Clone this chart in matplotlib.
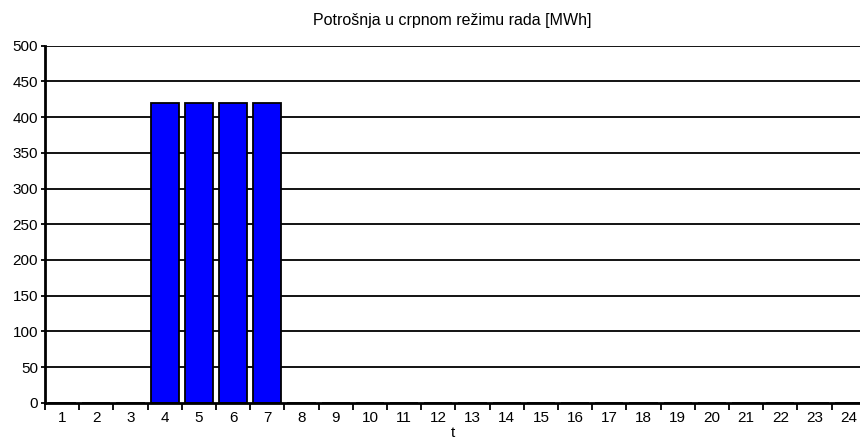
import numpy as np
import matplotlib.pyplot as plt
from matplotlib.ticker import FixedLocator

plt.rcParams['font.family'] = ['Liberation Sans', 'DejaVu Sans']

# Potrosnja po satima
sati = np.arange(1, 25)
potrosnja = np.array([0, 0, 0, 420, 420, 420, 420, 0, 0, 0, 0, 0,
                      0, 0, 0, 0, 0, 0, 0, 0, 0, 0, 0, 0])

fig = plt.figure(figsize=(8.6, 4.47), dpi=100)
ax = fig.add_axes([0.0523, 0.099, 0.9477, 0.7988])

ax.set_axisbelow(True)
for yv in np.arange(50, 501, 50):
	ax.axhline(yv, color='black', lw=1.3, zorder=0)

ax.bar(sati, potrosnja, width=0.82, color='#0000ff', edgecolor='black', linewidth=1.3, zorder=2)

ax.set_xlim(0.5, 24.33)
ax.set_ylim(0, 500)
ax.set_yticks(np.arange(0, 501, 50))
ax.set_xticks(sati)
ax.xaxis.set_minor_locator(FixedLocator(np.arange(0.5, 25, 1)))
ax.tick_params(axis='x', which='major', length=0, pad=6, labelsize=11)
ax.tick_params(axis='x', which='minor', length=5, width=1.3, direction='out')
ax.tick_params(axis='y', length=3, width=1.3, labelsize=11, pad=2)

for s in ['top', 'right']:
	ax.spines[s].set_visible(False)
ax.spines['left'].set_linewidth(2)
ax.spines['bottom'].set_linewidth(2)

ax.set_title('Potrošnja u crpnom režimu rada [MWh]', fontsize=11.5, pad=15)
ax.set_xlabel('t', fontsize=11, labelpad=1)

fig.savefig('out.png', dpi=100)
